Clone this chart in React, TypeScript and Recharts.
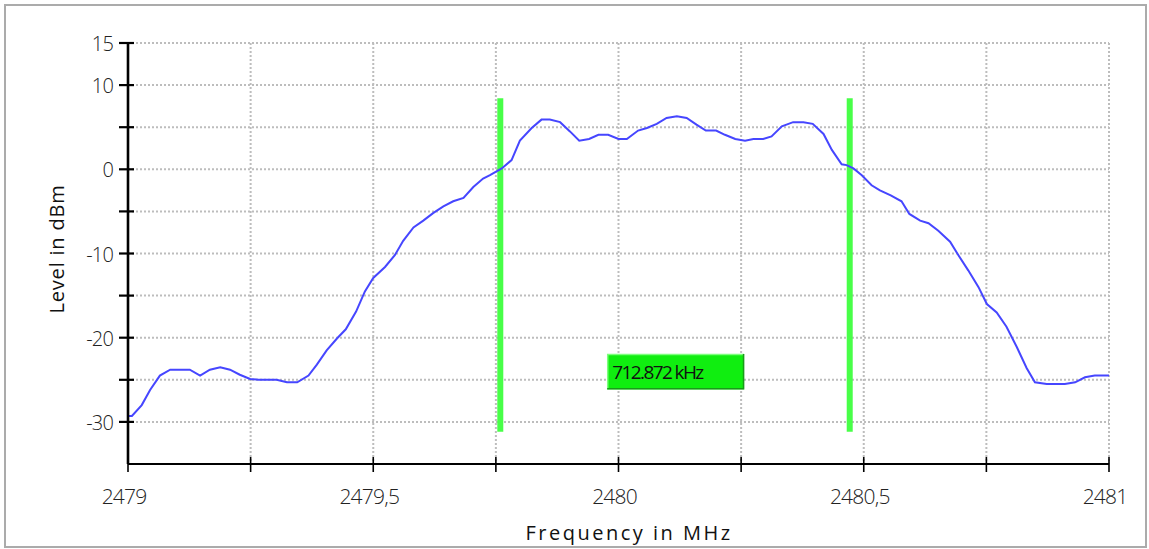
import React from "react";
import {
  LineChart,
  Line,
  XAxis,
  YAxis,
  CartesianGrid,
  ReferenceLine,
  ReferenceArea,
} from "recharts";

// spectrum trace (MHz / dBm)
const freqs = [
  2479.0, 2479.008, 2479.028, 2479.045, 2479.065, 2479.086, 2479.126, 2479.147,
  2479.167, 2479.188, 2479.208, 2479.228, 2479.249, 2479.266, 2479.303, 2479.324,
  2479.345, 2479.368, 2479.385, 2479.405, 2479.426, 2479.444, 2479.465, 2479.483,
  2479.5, 2479.524, 2479.544, 2479.561, 2479.582, 2479.602, 2479.622, 2479.643,
  2479.663, 2479.684, 2479.704, 2479.724, 2479.738, 2479.762, 2479.782, 2479.799,
  2479.823, 2479.843, 2479.86, 2479.881, 2479.901, 2479.92, 2479.94, 2479.959,
  2479.979, 2480.0, 2480.017, 2480.04, 2480.058, 2480.078, 2480.098, 2480.119,
  2480.139, 2480.159, 2480.178, 2480.199, 2480.217, 2480.238, 2480.258, 2480.275,
  2480.295, 2480.312, 2480.333, 2480.356, 2480.377, 2480.396, 2480.418, 2480.435,
  2480.455, 2480.465, 2480.479, 2480.496, 2480.516, 2480.533, 2480.555, 2480.577,
  2480.593, 2480.615, 2480.632, 2480.652, 2480.676, 2480.693, 2480.713, 2480.734,
  2480.751, 2480.771, 2480.791, 2480.812, 2480.832, 2480.849, 2480.873, 2480.91,
  2480.931, 2480.951, 2480.971, 2481.0,
];

const levels = [
  -29.3, -29.3, -28.0, -26.2, -24.5, -23.8, -23.8, -24.5,
  -23.8, -23.5, -23.8, -24.4, -24.9, -25.0, -25.0, -25.3,
  -25.3, -24.5, -23.2, -21.5, -20.1, -19.0, -16.9, -14.5,
  -12.9, -11.6, -10.2, -8.5, -6.9, -6.1, -5.2, -4.4,
  -3.8, -3.4, -2.1, -1.1, -0.7, 0.1, 1.1, 3.4,
  4.9, 5.9, 5.9, 5.6, 4.5, 3.4, 3.6, 4.1,
  4.1, 3.6, 3.6, 4.6, 4.9, 5.4, 6.1, 6.3,
  6.1, 5.3, 4.6, 4.6, 4.1, 3.6, 3.4, 3.6,
  3.6, 3.9, 5.1, 5.6, 5.6, 5.4, 4.2, 2.3,
  0.6, 0.5, 0.1, -0.7, -1.9, -2.5, -3.1, -3.8,
  -5.3, -6.1, -6.4, -7.3, -8.6, -10.2, -12.0, -14.0,
  -16.0, -17.0, -18.7, -21.1, -23.6, -25.3, -25.5, -25.5,
  -25.3, -24.7, -24.5, -24.5,
];

const xTicks = [2479, 2479.25, 2479.5, 2479.75, 2480, 2480.25, 2480.5, 2480.75, 2481];
const yTicks = [15, 10, 5, 0, -5, -10, -15, -20, -25, -30];
const yLabelled = [15, 10, 0, -10, -20, -30];

// occupied bandwidth markers
const markers = [2479.759, 2480.4714];
const markerSpan = [8.43, -31.16];
const bandwidthText = "712.872 kHz";
const bandwidthBox = { x1: 2479.977, x2: 2480.256, y1: -21.94, y2: -26.13 };

const data = freqs.map((f, i) => ({ f, level: levels[i] }));

const FONT = "'Open Sans', sans-serif";

function XTick(props: any) {
  const { x, y, payload } = props;
  const v = payload.value as number;
  const show = Math.abs(v * 2 - Math.round(v * 2)) < 1e-6;
  return (
    <g>
      <line x1={x} x2={x} y1={y - 7} y2={y + 8} stroke="#000" strokeWidth={1.6} />
      {show && (
        <text
          x={x - 4}
          y={y + 40}
          textAnchor="middle"
          fontFamily={FONT}
          fontWeight={300}
          fontSize={21}
          letterSpacing={-0.8}
          fill="#222"
        >
          {String(v).replace(".", ",")}
        </text>
      )}
    </g>
  );
}

function YTick(props: any) {
  const { x, y, payload } = props;
  const v = payload.value as number;
  return (
    <g>
      <line x1={x - 9} x2={x + 6} y1={y} y2={y} stroke="#000" strokeWidth={2.2} />
      {yLabelled.includes(v) && (
        <text
          x={x - 15}
          y={y + 8}
          textAnchor="end"
          fontFamily={FONT}
          fontWeight={300}
          fontSize={20}
          letterSpacing={-0.8}
          fill="#222"
        >
          {v}
        </text>
      )}
    </g>
  );
}

function BandwidthBox(props: any) {
  const { x, y, width, height } = props;
  return (
    <g>
      <rect x={x} y={y} width={width} height={height} fill="#10ee10" />
      <path d={`M${x + 0.5},${y + height} V${y + 0.5} H${x + width}`} stroke="#7dff7d" strokeWidth={1.5} fill="none" />
      <path d={`M${x + width - 0.5},${y} V${y + height - 0.5} H${x}`} stroke="#1a9a1a" strokeWidth={1.5} fill="none" />
      <text
        x={x + 5}
        y={y + height / 2 + 7}
        fontFamily={FONT}
        fontSize={19}
        letterSpacing={-1.6}
        fill="#111"
      >
        {bandwidthText}
      </text>
    </g>
  );
}

function XTitle() {
  return (
    <text
      x={629}
      y={540}
      textAnchor="middle"
      fontFamily={FONT}
      fontSize={20}
      letterSpacing={2.5}
      fill="#111"
    >
      Frequency in MHz
    </text>
  );
}

function YTitle() {
  return (
    <text
      x={64}
      y={249}
      transform="rotate(-90 64 249)"
      textAnchor="middle"
      fontFamily={FONT}
      fontSize={20}
      letterSpacing={0.8}
      fill="#111"
    >
      Level in dBm
    </text>
  );
}

export default function App() {
  return (
    <div
      style={{
        position: "absolute",
        left: 0,
        top: 0,
        width: 1149,
        height: 549,
        background: "#fff",
      }}
    >
      <div
        style={{
          position: "absolute",
          left: 4,
          top: 4,
          width: 1143,
          height: 544,
          border: "2px solid #ababab",
          boxSizing: "border-box",
        }}
      />
      <div style={{ position: "absolute", left: 0, top: 0 }}>
        <LineChart
          width={1149}
          height={549}
          data={data}
          margin={{ top: 43, right: 40, bottom: 25, left: 0 }}
        >
          <CartesianGrid stroke="#bdbdbd" strokeWidth={2} strokeDasharray="2 2" />
          <XAxis
            dataKey="f"
            type="number"
            domain={[2479, 2481]}
            ticks={xTicks}
            interval={0}
            height={60}
            tickSize={0}
            tickMargin={0}
            tickLine={false}
            axisLine={{ stroke: "#000", strokeWidth: 2 }}
            tick={<XTick />}
            label={{ content: <XTitle /> }}
          />
          <YAxis
            type="number"
            domain={[-35, 15]}
            ticks={yTicks}
            interval={0}
            width={128}
            tickSize={0}
            tickMargin={0}
            tickLine={false}
            axisLine={{ stroke: "#000", strokeWidth: 2.6 }}
            tick={<YTick />}
            label={{ content: <YTitle /> }}
          />
          {markers.map((m) => (
            <ReferenceLine
              key={m}
              segment={[
                { x: m, y: markerSpan[0] },
                { x: m, y: markerSpan[1] },
              ]}
              stroke="#48ff48"
              strokeWidth={6}
            />
          ))}
          <ReferenceArea
            x1={bandwidthBox.x1}
            x2={bandwidthBox.x2}
            y1={bandwidthBox.y1}
            y2={bandwidthBox.y2}
            shape={<BandwidthBox />}
          />
          <Line
            type="linear"
            dataKey="level"
            stroke="#4646ff"
            strokeWidth={2}
            dot={false}
            isAnimationActive={false}
          />
        </LineChart>
      </div>
    </div>
  );
}
